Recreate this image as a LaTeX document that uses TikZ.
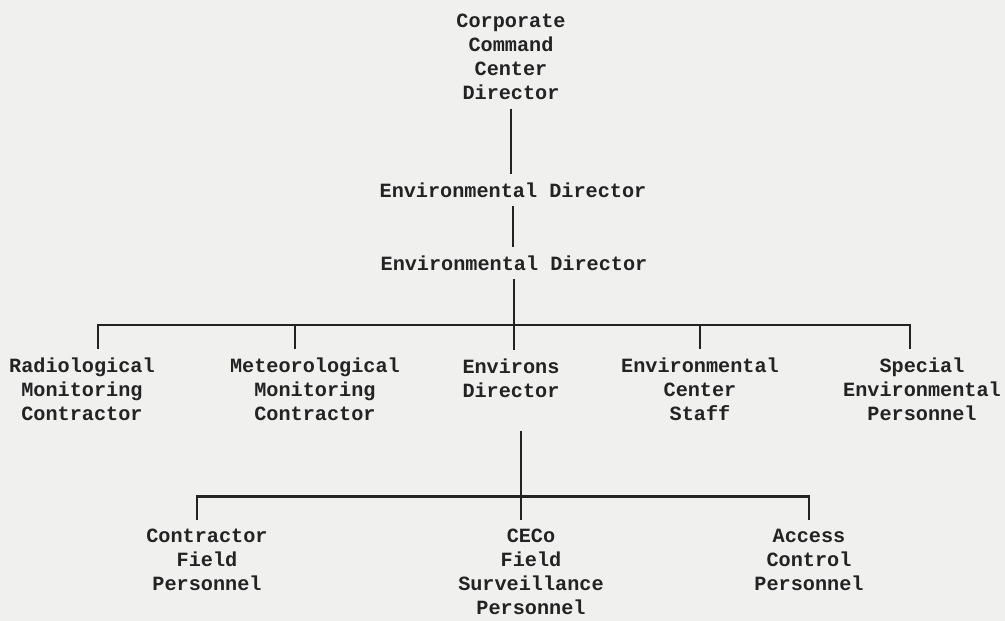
\documentclass[tikz,border=0pt]{standalone}
\usepackage{fontspec}
\setmonofont{Liberation Mono}
\usetikzlibrary{positioning, calc}
\definecolor{paper}{RGB}{240,240,239}
\definecolor{ink}{RGB}{35,35,35}

\begin{document}
\begin{tikzpicture}[
    x=0.02cm, y=-0.02cm, % one unit per pixel of the scan
    % Styles
    post/.style={ % a position in the chart
        align=center,
        inner sep=0pt,
        outer sep=5pt,
        text=ink,
        font=\fontsize{11.5}{13.66}\selectfont\ttfamily\bfseries
    },
    link/.style={
        draw=ink,
        line width=1.4pt
    }
]

    % Page
    \fill[paper] (0,0) rectangle (1005,621);
    \useasboundingbox (0,0) rectangle (1005,621);

    % Chain of command
    \node[post] (corp) at (511,57) {Corporate\\Command\\Center\\Director};
    \node[post] (envdir) at (513,190) {Environmental Director};
    \node[post] (envdir2) at (514,263) {Environmental Director};

    % First level
    \node[post] (radmon) at (82,389) {Radiological\\Monitoring\\Contractor};
    \node[post] (metmon) at (315,389) {Meteorological\\Monitoring\\Contractor};
    \node[post] (envirs) at (511,378) {Environs\\Director};
    \node[post] (staff) at (700,389) {Environmental\\Center\\Staff};
    \node[post] (special) at (922,389) {Special\\Environmental\\Personnel};

    % Second level
    \node[post] (cfield) at (207,560) {Contractor\\Field\\Personnel};
    \node[post] (ceco) at (531,572) {CECo\\Field\\Surveillance\\Personnel};
    \node[post] (access) at (809,560) {Access\\Control\\Personnel};

    % Connections
    \draw[link] (corp.south) -- (corp.south |- envdir.north);
    \draw[link] (envdir.south) -- (envdir.south |- envdir2.north);
    \draw[link] (envdir2.south) -- (envdir2.south |- envirs.north);

    % First bus
    \draw[link] ($(radmon.north)+(16,0)$) -- ++(0,-24) -| ($(special.north)+(-12,0)$);
    \draw[link] ($(metmon.north)+(-20,0)$) -- ++(0,-24);
    \draw[link] (staff.north) -- ++(0,-24);

    % Second bus
    \draw[link] ($(envirs.south)+(10,25)$) -- ($(ceco.north)+(-10,0)$);
    \draw[link] ($(cfield.north)+(-10,0)$) -- ++(0,-24) -| (access.north);
\end{tikzpicture}
\end{document}
